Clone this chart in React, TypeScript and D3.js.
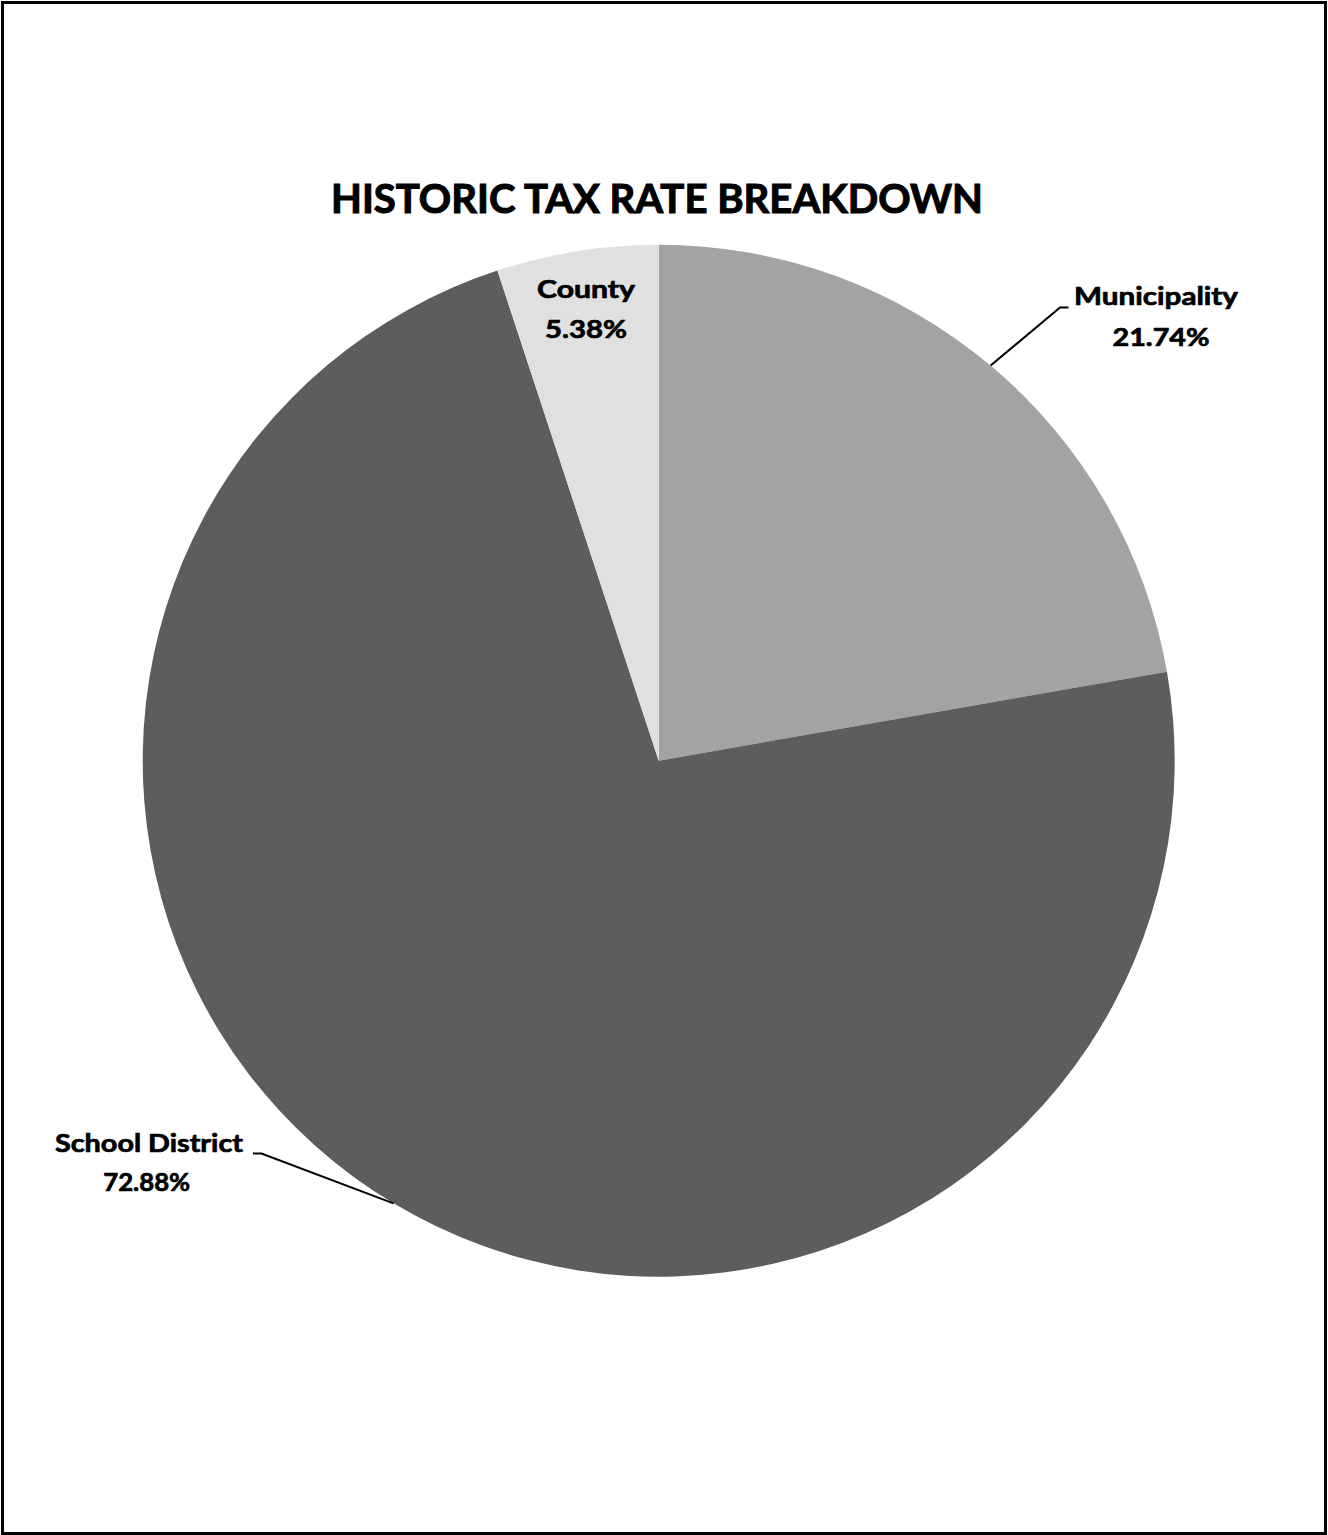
import React from "react";
import * as d3 from "d3";

const categories = ["Municipality", "School District", "County"];
// slice sizes as drawn in the picture (degrees of arc converted to %)
const sliceValues = [22.24, 72.7, 5.06];
// label texts as printed on the chart
const labelTexts = ["21.74%", "72.88%", "5.38%"];
const colors = ["#a3a3a3", "#5d5d5d", "#e0e0e0"];
const titleText = "HISTORIC TAX RATE BREAKDOWN";

const W = 1328;
const H = 1535;
const cx = 658.7;
const cy = 760.7;
const R = 516;
const FONT = "Lato, 'Open Sans', sans-serif";

export default function App() {
  const pie = d3
    .pie<number>()
    .sort(null)
    .value((d) => d)
    .startAngle(0)
    .endAngle(2 * Math.PI);
  const arcs = pie(sliceValues);
  const arc = d3.arc<d3.PieArcDatum<number>>().innerRadius(0).outerRadius(R);

  const edgePt = (a: d3.PieArcDatum<number>) => {
    const m = (a.startAngle + a.endAngle) / 2;
    return [cx + R * Math.sin(m), cy - R * Math.cos(m)];
  };

  const muni = edgePt(arcs[0]);
  const school = edgePt(arcs[1]);

  const labelStyle = {
    fontFamily: FONT,
    fontWeight: 700,
    fontSize: 25.5,
    fill: "#000",
    stroke: "#000",
    strokeWidth: 0.7,
  } as React.CSSProperties;

  return (
    <svg
      width={W}
      height={H}
      style={{ position: "absolute", left: 0, top: 0, background: "#fff" }}
    >
      <rect x={0} y={0} width={W} height={H} fill="#fff" />
      <rect
        x={2.5}
        y={2.5}
        width={1323}
        height={1531}
        fill="none"
        stroke="#000"
        strokeWidth={3}
      />
      <text
        x={657}
        y={213}
        textAnchor="middle"
        textLength={652}
        lengthAdjust="spacingAndGlyphs"
        style={{
          fontFamily: FONT,
          fontWeight: 700,
          fontSize: 41,
          fill: "#000",
          stroke: "#000",
          strokeWidth: 1.1,
        }}
      >
        {titleText}
      </text>
      <g transform={`translate(${cx},${cy})`}>
        {arcs.map((a, i) => (
          <path key={categories[i]} d={arc(a) || ""} fill={colors[i]} />
        ))}
      </g>
      {/* Municipality leader */}
      <polyline
        points={`${muni[0]},${muni[1]} 1060,307.5 1068.5,307.5`}
        fill="none"
        stroke="#000"
        strokeWidth={2}
      />
      {/* School District leader */}
      <polyline
        points={`${school[0]},${school[1]} 261.5,1153.5 253,1153.5`}
        fill="none"
        stroke="#000"
        strokeWidth={2}
      />
      {/* labels */}
      <text x={1156} y={305} textAnchor="middle" textLength={164} lengthAdjust="spacingAndGlyphs" style={labelStyle}>
        {categories[0]}
      </text>
      <text x={1161} y={346} textAnchor="middle" textLength={97} lengthAdjust="spacingAndGlyphs" style={labelStyle}>
        {labelTexts[0]}
      </text>
      <text x={149} y={1151.7} textAnchor="middle" textLength={188} lengthAdjust="spacingAndGlyphs" style={labelStyle}>
        {categories[1]}
      </text>
      <text x={146.7} y={1190.7} textAnchor="middle" textLength={87} lengthAdjust="spacingAndGlyphs" style={labelStyle}>
        {labelTexts[1]}
      </text>
      <text x={586} y={298.3} textAnchor="middle" textLength={98} lengthAdjust="spacingAndGlyphs" style={labelStyle}>
        {categories[2]}
      </text>
      <text x={586} y={338.3} textAnchor="middle" textLength={82} lengthAdjust="spacingAndGlyphs" style={labelStyle}>
        {labelTexts[2]}
      </text>
    </svg>
  );
}
